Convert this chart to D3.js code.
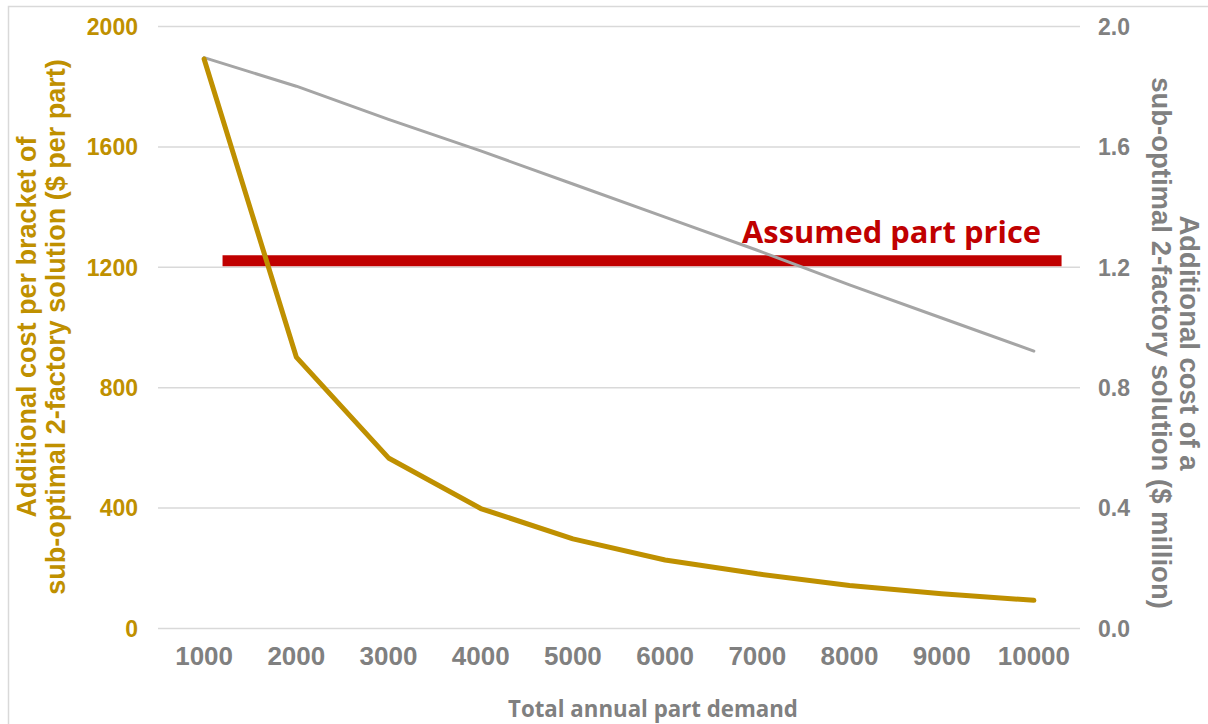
<!DOCTYPE html>
<html>
<head>
<meta charset="utf-8">
<script src="https://cdn.jsdelivr.net/npm/d3@7"></script>
<style>
  html, body { margin: 0; padding: 0; background: #ffffff; }
  svg { display: block; }
</style>
</head>
<body>
<svg id="chart" width="1208" height="724"></svg>
<script>
// Total annual part demand (categories)
const demand = [1000, 2000, 3000, 4000, 5000, 6000, 7000, 8000, 9000, 10000];
// Additional cost per bracket of the sub-optimal 2-factory solution ($ per part)
const costPerBracket = [1890, 900, 565, 397, 296, 226, 180, 141, 114, 92];
// Additional cost of a sub-optimal 2-factory solution ($ million)
const costTotal = [1.895, 1.80, 1.69, 1.585, 1.475, 1.365, 1.255, 1.14, 1.03, 0.92];
// Assumed part price ($ per part) and the demand span of its marker
const partPrice = 1220;
const priceSpan = [1200, 10300];
// Tick labels
const leftTicks = [0, 400, 800, 1200, 1600, 2000];
const rightTicks = [0.0, 0.4, 0.8, 1.2, 1.6, 2.0];

const GOLD = "#BF9000";
const GREY_LINE = "#A5A5A5";
const GREY_TEXT = "#808080";
const RED = "#C00000";
const GRID = "#D9D9D9";
const SANS = "'Liberation Sans', Arial, Helvetica, sans-serif";
const HUMANIST = "'Open Sans', Lato, sans-serif";

const svg = d3.select("#chart");
const plot = { left: 158, right: 1080, top: 26, bottom: 628 };

// shrink or grow a text element's font so it spans the given width
function fitWidth(sel, width) {
  const size = +sel.attr("font-size");
  const w = sel.node().getComputedTextLength();
  if (w > 0) sel.attr("font-size", (size * width / w).toFixed(2));
}

// chart frame
svg.append("rect")
  .attr("x", 8.5).attr("y", 6.5)
  .attr("width", 1400).attr("height", 900)
  .attr("fill", "none").attr("stroke", GRID).attr("stroke-width", 1.5);

const x = d3.scaleBand().domain(demand).range([plot.left, plot.right]).paddingInner(0).paddingOuter(0);
const xc = d => x(d) + x.bandwidth() / 2;
const xLin = d3.scaleLinear()
  .domain([demand[0] - 500, demand[demand.length - 1] + 500])
  .range([plot.left, plot.right]);
const yL = d3.scaleLinear().domain([0, 2000]).range([plot.bottom, plot.top]);
const yR = d3.scaleLinear().domain([0, 2]).range([plot.bottom, plot.top]);

// horizontal gridlines
svg.append("g")
  .attr("transform", `translate(${plot.left},0)`)
  .call(d3.axisLeft(yL).tickValues(leftTicks).tickSize(-(plot.right - plot.left)).tickFormat(""))
  .call(g => g.select(".domain").remove())
  .call(g => g.selectAll("line").attr("stroke", GRID).attr("stroke-width", 1.5));

// left axis labels
svg.append("g")
  .attr("transform", `translate(${plot.left},0)`)
  .call(d3.axisLeft(yL).tickValues(leftTicks).tickSize(0).tickPadding(20).tickFormat(d3.format("d")))
  .call(g => g.select(".domain").remove())
  .call(g => g.selectAll("text")
    .attr("fill", GOLD).attr("font-family", SANS).attr("font-weight", "bold")
    .attr("font-size", 23).attr("dy", "0.36em"));

// right axis labels
svg.append("g")
  .attr("transform", `translate(${plot.right},0)`)
  .call(d3.axisRight(yR).tickValues(rightTicks).tickSize(0).tickPadding(18).tickFormat(d3.format(".1f")))
  .call(g => g.select(".domain").remove())
  .call(g => g.selectAll("text")
    .attr("fill", GREY_TEXT).attr("font-family", SANS).attr("font-weight", "bold")
    .attr("font-size", 23).attr("dy", "0.36em"));

// bottom axis labels
svg.append("g")
  .attr("transform", `translate(0,${plot.bottom})`)
  .call(d3.axisBottom(x).tickSize(0).tickFormat(d3.format("d")))
  .call(g => g.select(".domain").remove())
  .call(g => g.selectAll("text")
    .attr("y", 37).attr("dy", 0)
    .attr("fill", GREY_TEXT).attr("font-family", SANS).attr("font-weight", "bold")
    .attr("font-size", 26));

// assumed part price marker
svg.append("line")
  .attr("x1", xLin(priceSpan[0])).attr("x2", xLin(priceSpan[1]))
  .attr("y1", yL(partPrice)).attr("y2", yL(partPrice))
  .attr("stroke", RED).attr("stroke-width", 11);

const priceLabel = svg.append("text")
  .attr("x", 1041).attr("y", 243)
  .attr("text-anchor", "end")
  .attr("fill", RED)
  .attr("font-family", HUMANIST)
  .attr("font-weight", "bold")
  .attr("font-size", 30)
  .text("Assumed part price");
fitWidth(priceLabel, 299);

// total cost series (right axis)
svg.append("path")
  .datum(costTotal)
  .attr("fill", "none")
  .attr("stroke", GREY_LINE)
  .attr("stroke-width", 3)
  .attr("stroke-linejoin", "round")
  .attr("stroke-linecap", "round")
  .attr("d", d3.line().x((d, i) => xc(demand[i])).y(d => yR(d)));

// cost per bracket series (left axis)
svg.append("path")
  .datum(costPerBracket)
  .attr("fill", "none")
  .attr("stroke", GOLD)
  .attr("stroke-width", 5)
  .attr("stroke-linejoin", "round")
  .attr("stroke-linecap", "round")
  .attr("d", d3.line().x((d, i) => xc(demand[i])).y(d => yL(d)));

// left axis title
const leftTitle = svg.append("text")
  .attr("transform", "translate(0,327) rotate(-90)")
  .attr("text-anchor", "middle")
  .attr("fill", GOLD).attr("font-family", SANS).attr("font-weight", "bold")
  .attr("font-size", 27);
leftTitle.append("tspan").attr("x", 0).attr("y", 36).text("Additional cost per bracket of");
leftTitle.append("tspan").attr("x", 0).attr("y", 65).text("sub-optimal 2-factory solution ($ per part)");

// right axis title
const rightTitle = svg.append("text")
  .attr("transform", "translate(1208,343) rotate(90)")
  .attr("text-anchor", "middle")
  .attr("fill", GREY_TEXT).attr("font-family", SANS).attr("font-weight", "bold")
  .attr("font-size", 27.5);
rightTitle.append("tspan").attr("x", 0).attr("y", 28).text("Additional cost of a");
rightTitle.append("tspan").attr("x", 0).attr("y", 56).text("sub-optimal 2-factory solution ($ million)");

// bottom axis title
const xTitle = svg.append("text")
  .attr("x", 653).attr("y", 717)
  .attr("text-anchor", "middle")
  .attr("fill", GREY_TEXT)
  .attr("font-family", HUMANIST)
  .attr("font-weight", "bold")
  .attr("font-size", 20)
  .text("Total annual part demand");
fitWidth(xTitle, 290);
</script>
</body>
</html>
